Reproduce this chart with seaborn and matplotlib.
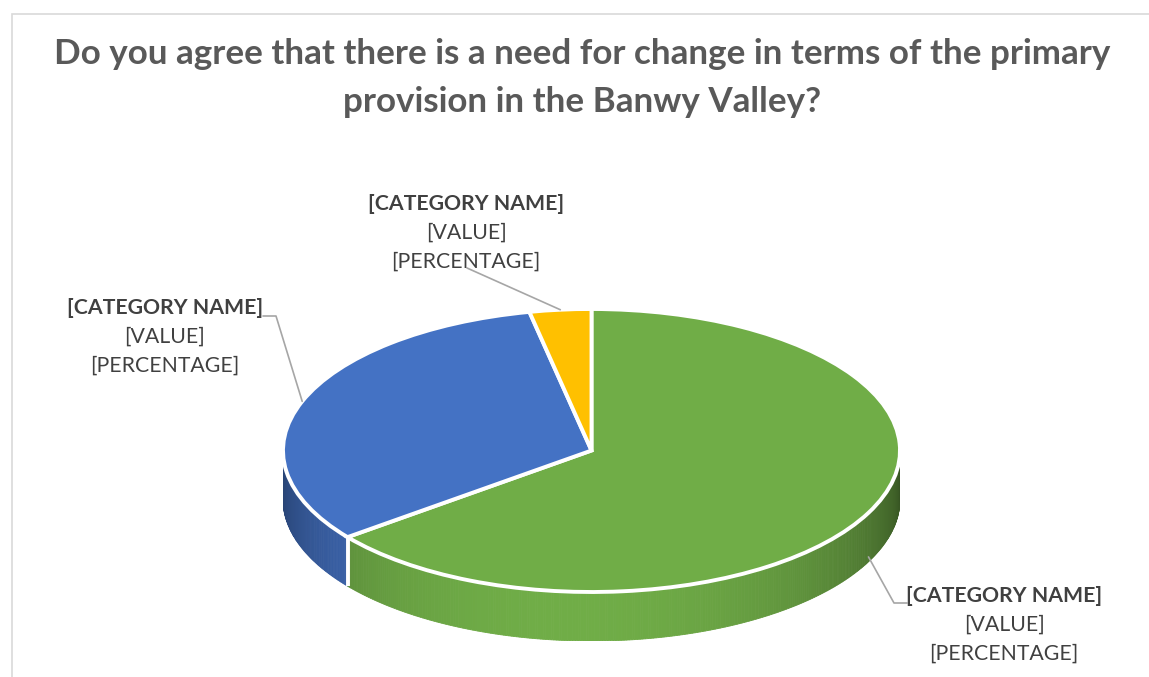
import numpy as np
import matplotlib
matplotlib.use("Agg")
import matplotlib.pyplot as plt
import matplotlib.colors as mcolors
from matplotlib.patches import Rectangle
import seaborn as sns

# ---------------- data ----------------
categories = ["[CATEGORY NAME]", "[CATEGORY NAME]", "[CATEGORY NAME]"]
values = [20, 10, 1]            # green, blue, yellow (clockwise from 12 o'clock)
value_labels = ["[VALUE]", "[VALUE]", "[VALUE]"]
pct_labels = ["[PERCENTAGE]", "[PERCENTAGE]", "[PERCENTAGE]"]
colors = ["#70AD47", "#4472C4", "#FFC000"]
title = "Do you agree that there is a need for change in terms of the primary\nprovision in the Banwy Valley?"

# ---------------- layout (pixels) ----------------
W, H = 1149, 677
CX, CY, A, B, DEPTH = 591.5, 450.5, 308.5, 141.5, 49.0
label_pos = [(1004, 596), (165, 308), (466, 204)]   # centre of first label line
LINE_STEP = 29

sns.set_theme(style="white")
plt.rcParams["font.family"] = ["Lato", "DejaVu Sans"]

fig = plt.figure(figsize=(W / 100, H / 100), dpi=100)
fig.patch.set_facecolor("white")

# chart frame
fig.patches.append(Rectangle((12 / W, -0.01), 1.1, (H - 14) / H + 0.01,
                             transform=fig.transFigure, fill=False,
                             edgecolor="#D9D9D9", linewidth=1.2))

# ---------------- pie axes (unit circle -> ellipse) ----------------
d = DEPTH / B
ax = fig.add_axes([(CX - A) / W, (H - (CY + B + DEPTH)) / H,
                   2 * A / W, (2 * B + DEPTH) / H])
ax.axis("off")

vals = np.array(values, dtype=float)
frac = vals / vals.sum()
# clockwise from 90 deg
starts = 90 - 360 * np.concatenate([[0], np.cumsum(frac)[:-1]])
ends = starts - 360 * frac

def shade(col, t):
    f = 0.52 + 0.48 * np.cos(np.radians(t + 95))
    rgb = np.array(mcolors.to_rgb(col)) * f
    return np.clip(rgb, 0, 1)

# side walls (visible front half: math angles -180..0)
for s, e, col in zip(starts, ends, colors):
    lo, hi = e, s
    for off in (0, -360, 360):
        a0, a1 = max(lo + off, -180), min(hi + off, 0)
        if a1 > a0:
            ts = np.linspace(a0, a1, max(int((a1 - a0) * 2), 2))
            for t0, t1 in zip(ts[:-1], ts[1:]):
                tm = 0.5 * (t0 + t1)
                c = shade(col, tm)
                x0, x1 = np.cos(np.radians(t0)), np.cos(np.radians(t1))
                y0, y1 = np.sin(np.radians(t0)), np.sin(np.radians(t1))
                ax.fill([x0, x1, x1, x0], [y0, y1, y1 - d, y0 - d],
                        color=c, linewidth=0.6, edgecolor=c, zorder=1)
# white separators on side at slice boundaries in the front half
for s in starts:
    t = (s + 180) % 360 - 180
    if -180 < t < 0:
        x, y = np.cos(np.radians(t)), np.sin(np.radians(t))
        ax.plot([x, x], [y, y - d], color="white", lw=2.8, zorder=2,
                solid_capstyle="butt")

wedges, _ = ax.pie(vals, colors=colors, startangle=90, counterclock=False,
                   wedgeprops=dict(edgecolor="white", linewidth=2.8))
for w in wedges:
    w.set_zorder(3)
    w.set_clip_on(False)
ax.set_aspect("auto")
ax.set_xlim(-1, 1)
ax.set_ylim(-1 - d, 1)

# ---------------- overlay axes in pixel coords ----------------
ov = fig.add_axes([0, 0, 1, 1], zorder=5)
ov.set_xlim(0, W)
ov.set_ylim(H, 0)
ov.axis("off")
ov.patch.set_alpha(0)

ov.text(W / 2 + 8, 54, title.split("\n")[0], ha="center", va="center",
        fontsize=25.2, fontweight="bold", color="#595959")
ov.text(W / 2 + 8, 102, title.split("\n")[1], ha="center", va="center",
        fontsize=25.2, fontweight="bold", color="#595959")

mids = 0.5 * (starts + ends)
leader = "#A6A6A6"
FS = 15.3
for i, (m, (lx, ly)) in enumerate(zip(mids, label_pos)):
    ax_x = CX + A * np.cos(np.radians(m))
    ax_y = CY - B * np.sin(np.radians(m))
    if np.sin(np.radians(m)) < 0:
        ax_y += 0.9 * DEPTH
    ov.text(lx, ly, categories[i], ha="center", va="center", fontsize=FS,
            fontweight="bold", color="#404040")
    ov.text(lx, ly + LINE_STEP, value_labels[i], ha="center", va="center",
            fontsize=FS, color="#404040")
    ov.text(lx, ly + 2 * LINE_STEP, pct_labels[i], ha="center", va="center",
            fontsize=FS, color="#404040")
    if lx > CX + A * 0.5:      # label right-below: elbow on the left of text
        ex = lx - 97
        ov.plot([ax_x, ex - 13, ex], [ax_y, ly + 7, ly + 7], color=leader, lw=1.2)
    elif lx < CX - A * 0.5:    # label left: elbow on the right
        ex = lx + 98
        ov.plot([ex, ex + 13, ax_x], [ly + 8, ly + 8, ax_y], color=leader, lw=1.2)
    else:
        ov.plot([lx + 1, ax_x], [ly + 64, ax_y], color=leader, lw=1.2)

fig.savefig("out.png", dpi=100, facecolor="white")
